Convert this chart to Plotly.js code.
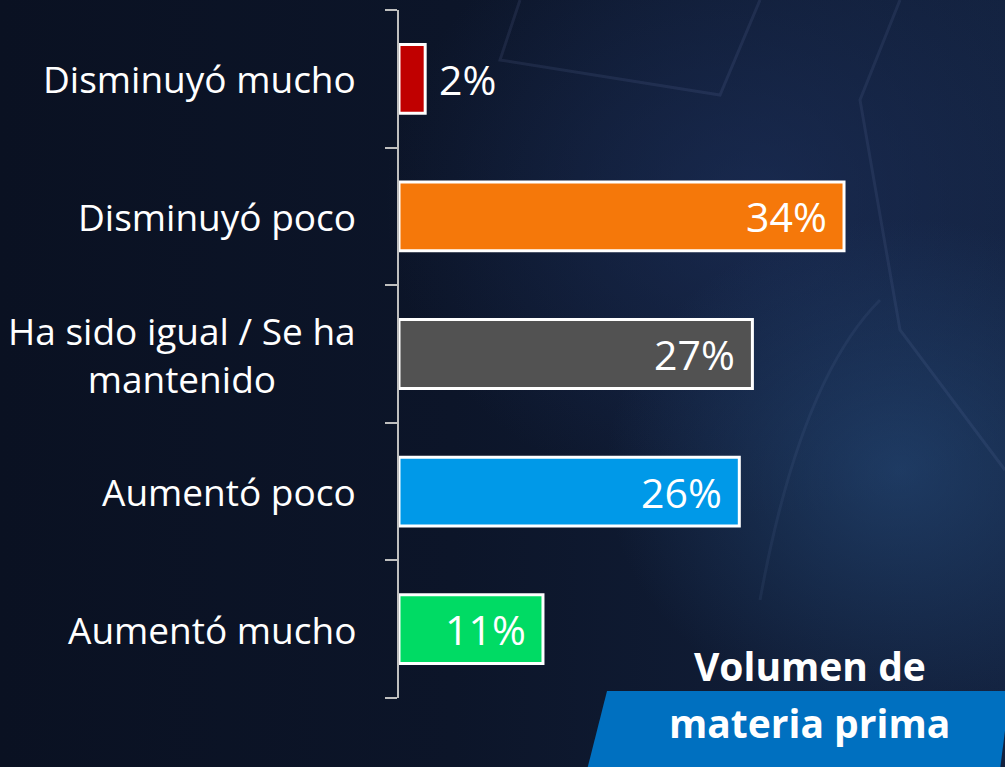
<!DOCTYPE html>
<html>
<head>
<meta charset="utf-8">
<script src="https://cdn.plot.ly/plotly-3.0.1.min.js"></script>
<style>
html,body{margin:0;padding:0;width:1005px;height:767px;overflow:hidden;}
body{background:
 radial-gradient(ellipse 420px 360px at 900px 470px, rgba(40,80,130,0.55), rgba(20,40,80,0) 70%),
 radial-gradient(ellipse 500px 420px at 760px 200px, rgba(30,50,95,0.6), rgba(20,40,80,0) 75%),
 linear-gradient(90deg, #0a1122 0%, #0c1529 45%, #13223f 100%);}
#chart{width:1005px;height:767px;}
</style>
</head>
<body>
<div id="chart"></div>
<script>
const categories = ["Disminuyó mucho", "Disminuyó poco", "Ha sido igual / Se ha<br>mantenido", "Aumentó poco", "Aumentó mucho"];
const values = [2, 34, 27, 26, 11];
const valueLabels = ["2%", "34%", "27%", "26%", "11%"];
const barColors = ["#c00000", "#f5780a", "#525252", "#0099e8", "#00db64"];
const panelLine1 = "Volumen de";
const panelLine2 = "materia prima";

// plot area in pixels
const L = 399, R = 988, T = 10, B = 698;
const px = x => (x - L) / (R - L);
const py = y => (B - y) / (B - T);

const fontFam = "'Open Sans', 'Noto Sans', sans-serif";
const n = categories.length;
const boundaries = Array.from({length: n + 1}, (_, i) => i - 0.5);

const trace = {
  type: "bar",
  orientation: "h",
  x: values,
  y: categories,
  width: 0.5,
  marker: {color: barColors, line: {color: "#ffffff", width: 3}},
  hoverinfo: "skip"
};
const axisTrace = {type: "scatter", mode: "none", x: [0], y: [0], yaxis: "y2", hoverinfo: "skip"};

const annotations = [];
categories.forEach((c, i) => {
  annotations.push({
    xref: "paper", yref: "y", x: px(358), y: c,
    text: c, showarrow: false, xanchor: "right", yanchor: "middle", align: "center",
    font: {family: fontFam, size: 37, color: "#ffffff"}
  });
  const inside = values[i] >= 5;
  annotations.push({
    xref: "x", yref: "y", x: values[i], y: c,
    text: valueLabels[i], showarrow: false,
    xanchor: inside ? "right" : "left", yanchor: "middle",
    xshift: inside ? -15 : 12,
    font: {family: fontFam, size: 41, color: "#ffffff"}
  });
});
annotations.push({
  xref: "paper", yref: "paper", x: px(810), y: py(665), text: "<b>" + panelLine1 + "</b>",
  showarrow: false, xanchor: "center", yanchor: "middle",
  font: {family: fontFam, size: 39, color: "#ffffff"}
});
annotations.push({
  xref: "paper", yref: "paper", x: px(809), y: py(722), text: "<b>" + panelLine2 + "</b>",
  showarrow: false, xanchor: "center", yanchor: "middle",
  font: {family: fontFam, size: 39, color: "#ffffff"}
});

const shapes = [
  {type: "path", xref: "paper", yref: "paper", layer: "below",
   path: `M ${px(607)} ${py(691)} L ${px(1010)} ${py(691)} L ${px(1000)} ${py(770)} L ${px(587)} ${py(770)} Z`,
   fillcolor: "#0070c0", line: {width: 0}},
  {type: "path", xref: "paper", yref: "paper", layer: "below",
   path: `M ${px(520)} ${py(0)} L ${px(500)} ${py(60)} L ${px(720)} ${py(95)} L ${px(760)} ${py(0)}`,
   line: {color: "rgba(120,140,190,0.13)", width: 3}},
  {type: "path", xref: "paper", yref: "paper", layer: "below",
   path: `M ${px(900)} ${py(0)} L ${px(860)} ${py(100)} L ${px(900)} ${py(330)} L ${px(1005)} ${py(470)}`,
   line: {color: "rgba(120,140,190,0.12)", width: 3}},
  {type: "path", xref: "paper", yref: "paper", layer: "below",
   path: `M ${px(880)} ${py(300)} Q ${px(800)} ${py(380)} ${px(760)} ${py(600)}`,
   line: {color: "rgba(120,140,190,0.10)", width: 3}}
];

const layout = {
  width: 1005, height: 767,
  margin: {l: L, r: 1005 - R, t: T, b: 767 - B, pad: 0},
  paper_bgcolor: "rgba(0,0,0,0)",
  plot_bgcolor: "rgba(0,0,0,0)",
  showlegend: false,
  xaxis: {range: [0, 45], showgrid: false, zeroline: false, showticklabels: false, showline: false, ticks: ""},
  yaxis: {
    type: "category", categoryarray: categories, categoryorder: "array",
    range: [n - 0.5, -0.5],
    showgrid: false, zeroline: false, showticklabels: false, showline: false, ticks: ""
  },
  yaxis2: {
    overlaying: "y", side: "left", range: [n - 0.5, -0.5],
    tickmode: "array", tickvals: boundaries,
    showgrid: false, zeroline: false, showticklabels: false,
    showline: true, linecolor: "#bfbfbf", linewidth: 2,
    ticks: "outside", ticklen: 12, tickcolor: "#bfbfbf", tickwidth: 2
  },
  annotations: annotations,
  shapes: shapes
};

Plotly.newPlot("chart", [trace, axisTrace], layout, {displayModeBar: false, staticPlot: true});
</script>
</body>
</html>
